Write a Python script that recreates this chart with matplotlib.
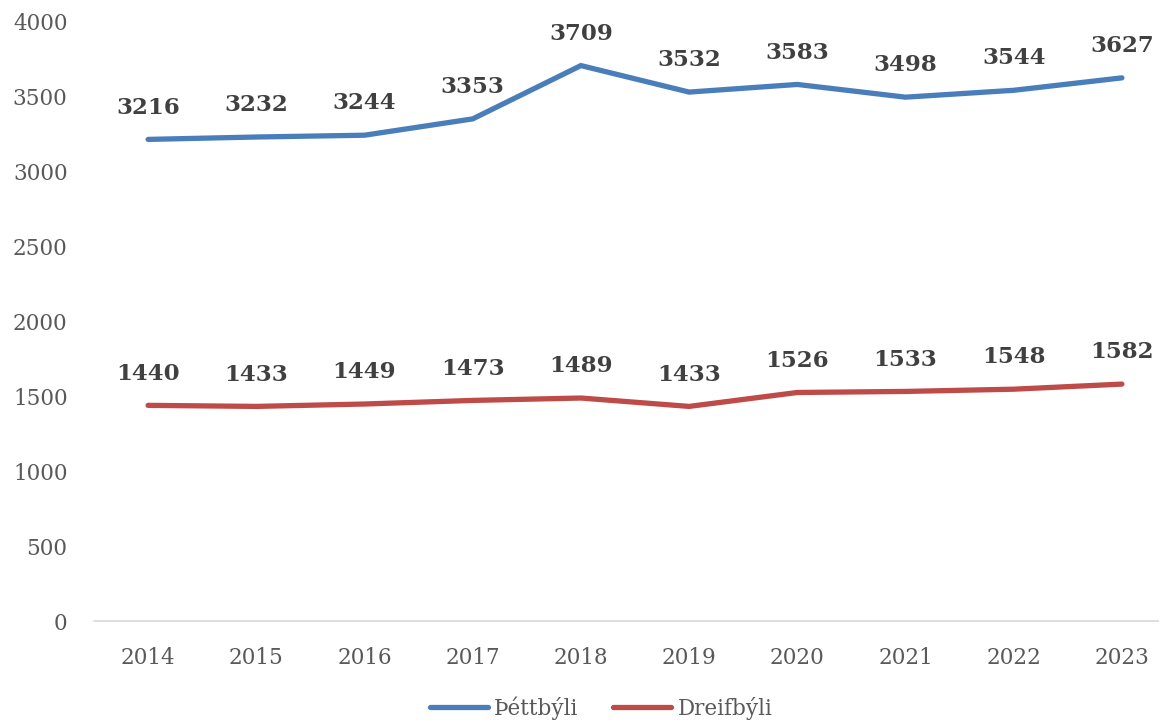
import matplotlib.pyplot as plt

years = ['2014', '2015', '2016', '2017', '2018', '2019', '2020', '2021', '2022', '2023']
urban = [3216, 3232, 3244, 3353, 3709, 3532, 3583, 3498, 3544, 3627]
rural = [1440, 1433, 1449, 1473, 1489, 1433, 1526, 1533, 1548, 1582]
series_names = ['Þéttbýli', 'Dreifbýli']
yticks = [0, 500, 1000, 1500, 2000, 2500, 3000, 3500, 4000]

plt.rcParams['font.family'] = ['DejaVu Serif']

fig = plt.figure(figsize=(11.59, 7.24), dpi=100)
ax = fig.add_axes([94 / 1159, 103 / 724, 1082 / 1159, 599 / 724])

x = list(range(len(years)))
colors = ['#4A7EBB', '#BE4B48']
for values, name, color in zip([urban, rural], series_names, colors):
    ax.plot(x, values, color=color, linewidth=3.8, solid_capstyle='round',
            solid_joinstyle='miter', label=name)
    for xi, v in zip(x, values):
        ax.annotate(str(v), (xi, v), xytext=(0, 15), textcoords='offset points',
                    ha='center', va='bottom', fontsize=16.5, fontweight='bold',
                    color='#404040')

ax.set_xlim(-0.5, len(years) - 0.5)
ax.set_ylim(0, 4000)
ax.set_xticks(x)
ax.set_xticklabels(years)
ax.set_yticks(yticks)

for side in ['top', 'right', 'left']:
    ax.spines[side].set_visible(False)
ax.spines['bottom'].set_color('#D9D9D9')
ax.spines['bottom'].set_linewidth(1.2)
ax.tick_params(axis='both', length=0, labelsize=15.5, labelcolor='#595959')
ax.tick_params(axis='x', pad=19)
ax.tick_params(axis='y', pad=19)

fig.legend(loc='center', bbox_to_anchor=(601 / 1159, 1 - 708 / 724), ncol=2,
           frameon=False, fontsize=15.5, handlelength=2.7, handletextpad=0.3,
           columnspacing=1.6, labelcolor='#595959')

fig.savefig('out.png', dpi=100)
